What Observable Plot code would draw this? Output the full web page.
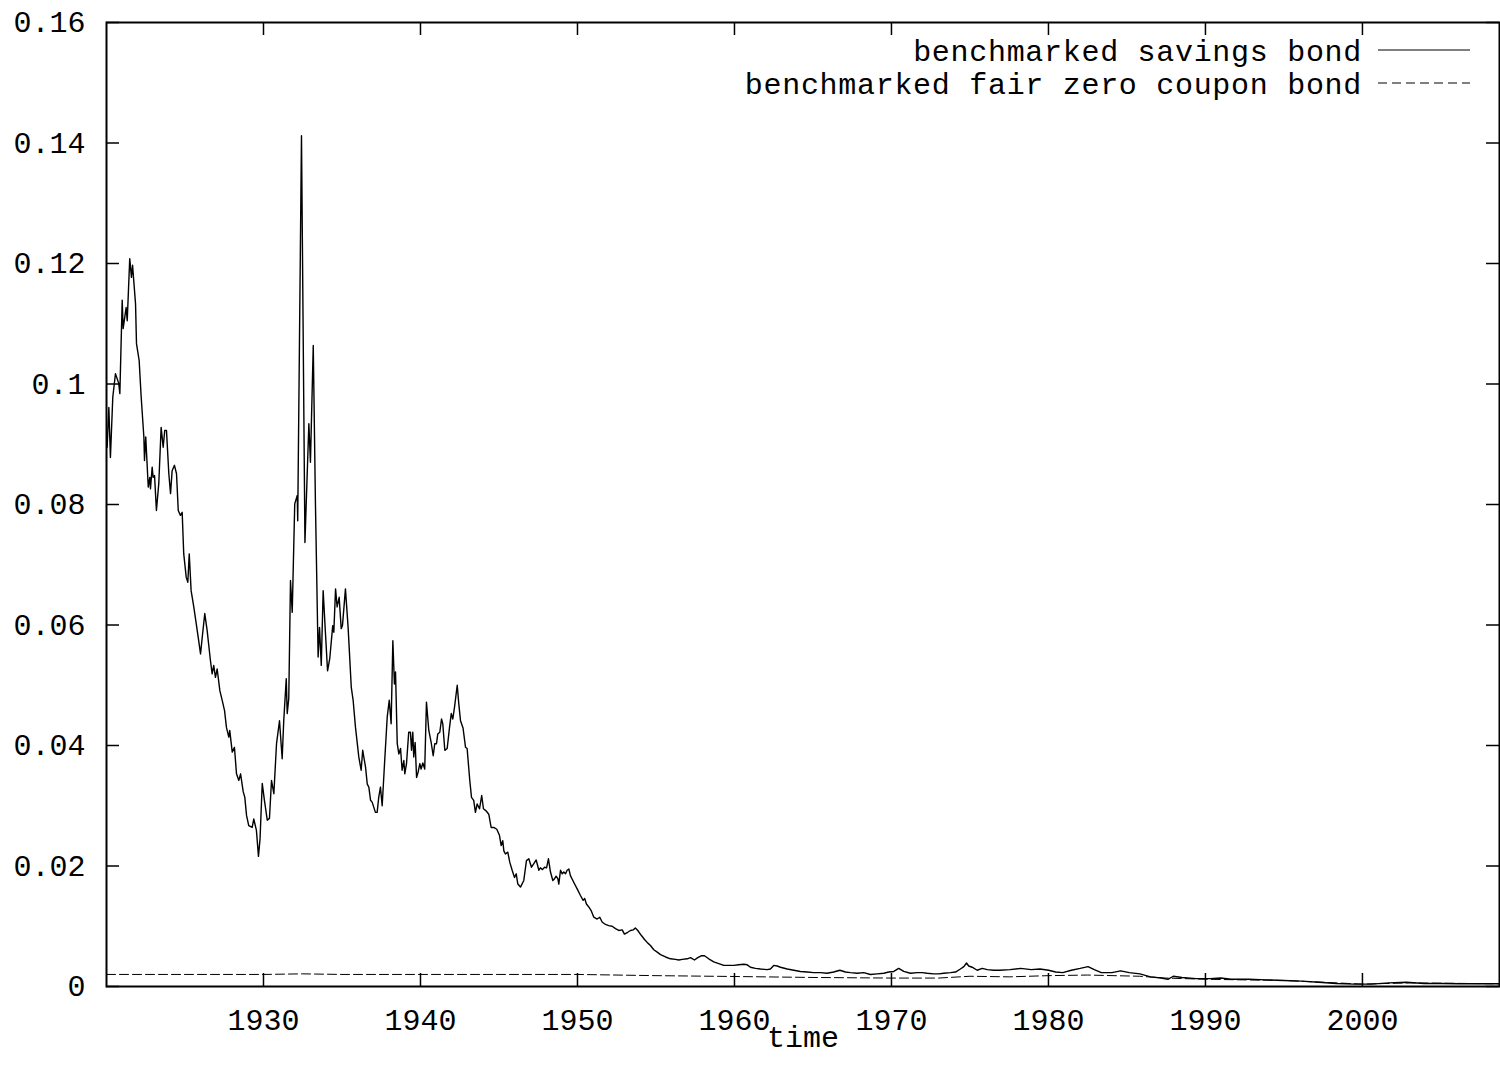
<!DOCTYPE html>
<html>
<head>
<meta charset="utf-8">
<script src="https://cdn.jsdelivr.net/npm/d3@7"></script>
<script src="https://cdn.jsdelivr.net/npm/@observablehq/plot@0.6"></script>
<style>
  body { margin: 0; background: #fff; }
  #chart { width: 1500px; height: 1078px; }
</style>
</head>
<body>
<div id="chart"></div>
<script>
// ---- data ----
const seriesNames = ["benchmarked savings bond", "benchmarked fair zero coupon bond"];
const xTicks = [1930, 1940, 1950, 1960, 1970, 1980, 1990, 2000];
const yTicks = [0, 0.02, 0.04, 0.06, 0.08, 0.1, 0.12, 0.14, 0.16];
const xLabel = "time";

const savingsYear = [
1920.04,1920.15,1920.25,1920.40,1920.57,1920.78,1920.85,1921.00,1921.06,1921.25,1921.32,1921.48,1921.59,1921.66,1921.85,1921.91,
1922.08,1922.21,1922.38,1922.42,1922.50,1922.66,1922.76,1922.80,1922.91,1922.97,1923.06,1923.18,1923.33,1923.48,1923.61,1923.71,
1923.82,1923.97,1924.08,1924.18,1924.33,1924.46,1924.57,1924.71,1924.82,1924.92,1925.08,1925.18,1925.27,1925.39,1925.56,1925.69,
1925.84,1925.99,1926.10,1926.26,1926.41,1926.62,1926.73,1926.83,1926.94,1927.05,1927.22,1927.37,1927.52,1927.64,1927.79,1927.85,
1928.01,1928.15,1928.28,1928.43,1928.54,1928.71,1928.81,1928.92,1929.06,1929.28,1929.38,1929.55,1929.68,1929.78,1929.92,1930.06,
1930.24,1930.38,1930.51,1930.66,1930.83,1931.02,1931.19,1931.29,1931.45,1931.51,1931.61,1931.72,1931.83,1931.99,1932.15,1932.18,
1932.42,1932.64,1932.89,1932.99,1933.17,1933.31,1933.48,1933.57,1933.68,1933.80,1933.95,1934.08,1934.22,1934.41,1934.48,1934.59,
1934.69,1934.82,1934.95,1935.03,1935.22,1935.39,1935.59,1935.71,1935.86,1936.07,1936.22,1936.32,1936.50,1936.61,1936.71,1936.82,
1936.92,1937.13,1937.24,1937.34,1937.45,1937.56,1937.71,1937.88,1938.01,1938.13,1938.24,1938.34,1938.41,1938.52,1938.62,1938.73,
1938.83,1938.94,1939.00,1939.11,1939.25,1939.36,1939.43,1939.51,1939.57,1939.66,1939.75,1939.85,1939.96,1940.04,1940.15,1940.27,
1940.38,1940.53,1940.68,1940.81,1940.91,1941.02,1941.10,1941.23,1941.34,1941.42,1941.55,1941.70,1941.85,1941.96,1942.06,1942.17,
1942.34,1942.44,1942.55,1942.71,1942.87,1942.97,1943.14,1943.25,1943.39,1943.50,1943.61,1943.76,1943.90,1944.01,1944.16,1944.35,
1944.50,1944.67,1944.86,1945.03,1945.14,1945.24,1945.31,1945.41,1945.56,1945.69,1945.84,1945.99,1946.10,1946.20,1946.37,1946.58,
1946.75,1946.90,1947.07,1947.22,1947.37,1947.54,1947.64,1947.77,1947.90,1948.03,1948.15,1948.28,1948.43,1948.54,1948.64,1948.75,
1948.81,1948.92,1949.03,1949.13,1949.24,1949.34,1949.45,1949.55,1949.76,1949.98,1950.19,1950.36,1950.46,1950.57,1950.72,1950.87,
1951.04,1951.25,1951.42,1951.57,1951.78,1951.99,1952.21,1952.42,1952.63,1952.85,1952.99,1953.20,1953.38,1953.55,1953.69,1953.84,
1954.06,1954.27,1954.48,1954.65,1954.86,1955.08,1955.29,1955.61,1955.92,1956.24,1956.45,1956.67,1956.99,1957.20,1957.45,1957.66,
1957.88,1958.09,1958.36,1958.68,1959.00,1959.32,1959.64,1959.96,1960.27,1960.59,1960.81,1961.02,1961.34,1961.66,1962.08,1962.29,
1962.50,1962.72,1962.93,1963.36,1963.78,1964.20,1964.63,1965.05,1965.48,1965.90,1966.32,1966.71,1967.07,1967.39,1967.82,1968.24,
1968.66,1969.09,1969.51,1969.83,1970.15,1970.46,1970.78,1971.21,1971.64,1971.96,1972.27,1972.69,1973.01,1973.33,1973.76,1974.08,
1974.39,1974.61,1974.78,1974.92,1975.14,1975.46,1975.78,1976.10,1976.52,1976.88,1977.55,1978.23,1978.90,1979.46,1980.01,1980.46,
1980.91,1981.46,1982.02,1982.52,1982.92,1983.37,1984.04,1984.60,1985.15,1985.83,1986.50,1987.17,1987.61,1987.95,1988.51,1989.40,
1990.29,1990.97,1991.64,1992.75,1993.87,1994.99,1996.11,1997.22,1998.34,1999.46,2000.57,2001.69,2002.80,2003.93,2005.03,2006.15,
2007.27,2008.73
];
const savingsValue = [
0.0895,0.0961,0.0878,0.0978,0.1017,0.1001,0.0984,0.1139,0.1092,0.1127,0.1105,0.1208,0.1177,0.1197,0.1133,0.1067,
0.1039,0.0978,0.0912,0.0873,0.0912,0.0829,0.0845,0.0826,0.0862,0.0845,0.0848,0.0790,0.0835,0.0928,0.0895,0.0923,
0.0923,0.0851,0.0818,0.0856,0.0865,0.0851,0.0790,0.0782,0.0787,0.0718,0.0679,0.0671,0.0718,0.0657,0.0630,0.0607,
0.0580,0.0552,0.0580,0.0619,0.0591,0.0541,0.0519,0.0533,0.0513,0.0527,0.0491,0.0475,0.0458,0.0430,0.0414,0.0425,
0.0389,0.0397,0.0353,0.0342,0.0353,0.0323,0.0314,0.0284,0.0267,0.0264,0.0278,0.0259,0.0216,0.0245,0.0337,0.0309,
0.0276,0.0279,0.0342,0.0320,0.0403,0.0441,0.0378,0.0441,0.0511,0.0453,0.0478,0.0674,0.0621,0.0801,0.0815,0.0773,
0.1412,0.0737,0.0934,0.0870,0.1064,0.0800,0.0547,0.0596,0.0533,0.0657,0.0585,0.0524,0.0544,0.0599,0.0588,0.0660,
0.0630,0.0646,0.0594,0.0599,0.0660,0.0596,0.0497,0.0475,0.0430,0.0381,0.0359,0.0392,0.0364,0.0336,0.0331,0.0309,
0.0306,0.0289,0.0289,0.0314,0.0331,0.0300,0.0370,0.0447,0.0475,0.0436,0.0574,0.0502,0.0522,0.0403,0.0386,0.0395,
0.0359,0.0375,0.0353,0.0370,0.0422,0.0422,0.0392,0.0422,0.0381,0.0405,0.0347,0.0356,0.0370,0.0361,0.0371,0.0361,
0.0472,0.0425,0.0405,0.0383,0.0403,0.0403,0.0419,0.0422,0.0444,0.0436,0.0392,0.0395,0.0430,0.0453,0.0444,0.0464,
0.0500,0.0469,0.0441,0.0429,0.0397,0.0395,0.0342,0.0314,0.0309,0.0289,0.0303,0.0295,0.0317,0.0295,0.0292,0.0286,
0.0264,0.0264,0.0261,0.0251,0.0234,0.0242,0.0225,0.0220,0.0223,0.0206,0.0193,0.0181,0.0187,0.0170,0.0165,0.0176,
0.0209,0.0212,0.0198,0.0204,0.0210,0.0193,0.0197,0.0194,0.0198,0.0197,0.0212,0.0190,0.0176,0.0179,0.0183,0.0179,
0.0170,0.0193,0.0187,0.0190,0.0187,0.0193,0.0195,0.0184,0.0173,0.0162,0.0151,0.0143,0.0146,0.0137,0.0132,0.0126,
0.0115,0.0112,0.0115,0.0107,0.0103,0.0101,0.0100,0.0096,0.0093,0.0094,0.0087,0.0090,0.0093,0.0094,0.0097,0.0093,
0.0085,0.0078,0.0072,0.0068,0.0061,0.0057,0.0053,0.0049,0.0046,0.0045,0.0044,0.0045,0.0046,0.0048,0.0044,0.0048,
0.0051,0.0051,0.0046,0.0041,0.0038,0.0035,0.0035,0.0035,0.0036,0.0037,0.0036,0.0032,0.0030,0.0029,0.0028,0.0029,
0.0035,0.0034,0.0032,0.0029,0.0027,0.0025,0.0024,0.0023,0.0023,0.0022,0.0024,0.0027,0.0024,0.0023,0.0022,0.0023,
0.0020,0.0021,0.0022,0.0024,0.0025,0.0030,0.0025,0.0022,0.0023,0.0023,0.0022,0.0021,0.0021,0.0022,0.0023,0.0024,
0.0029,0.0033,0.0039,0.0034,0.0032,0.0027,0.0030,0.0028,0.0027,0.0027,0.0028,0.0030,0.0028,0.0029,0.0027,0.0024,
0.0023,0.0027,0.0030,0.0033,0.0028,0.0023,0.0023,0.0026,0.0023,0.0021,0.0016,0.0014,0.0012,0.0017,0.0015,0.0013,
0.0013,0.0014,0.0012,0.0012,0.0011,0.0010,0.0009,0.0007,0.0005,0.0004,0.0004,0.0006,0.0007,0.0005,0.0005,0.00045,
0.00045,0.00045
];

const zeroYear = [1920, 1925, 1930, 1932.5, 1935, 1940, 1945, 1950, 1955, 1960, 1965, 1970, 1973, 1975, 1977.5, 1980, 1982.5, 1985.8, 1987.5, 1990, 1995, 2000, 2003, 2008.73];
const zeroValue = [0.0020, 0.0020, 0.0020, 0.0021, 0.0020, 0.0020, 0.0020, 0.0020, 0.0018, 0.00166, 0.0015, 0.0014, 0.0014, 0.0017, 0.0016, 0.0018, 0.0019, 0.0017, 0.0014, 0.0012, 0.0010, 0.0004, 0.0006, 0.00045];

// ---- build tables ----
const savings = savingsYear.map((t, i) => ({t, v: savingsValue[i]}));
const zero = zeroYear.map((t, i) => ({t, v: zeroValue[i]}));

const W = 1500, H = 1078;
const mL = 106, mR = 1, mT = 22, mB = 92;
const plotW = W - mL - mR, plotH = H - mT - mB;
const tick = 13;
const FONT = "'Liberation Mono', 'DejaVu Sans Mono', monospace";
const FS = 30;

const chart = Plot.plot({
  width: W,
  height: H,
  marginLeft: mL,
  marginRight: mR,
  marginTop: mT,
  marginBottom: mB,
  style: {fontFamily: FONT, fontSize: FS + "px", color: "#000", background: "#fff"},
  x: {domain: [1920, 2008.73], axis: null},
  y: {domain: [0, 0.16], axis: null},
  marks: [
    Plot.line(zero, {x: "t", y: "v", stroke: "#000", strokeWidth: 1, strokeDasharray: "9,4"}),
    Plot.line(savings, {x: "t", y: "v", stroke: "#000", strokeWidth: 1.4}),
    // inward ticks, mirrored on all four sides
    Plot.tickY(yTicks, {y: d => d, insetRight: plotW - tick, stroke: "#000", strokeWidth: 1.5}),
    Plot.tickY(yTicks, {y: d => d, insetLeft: plotW - tick, stroke: "#000", strokeWidth: 1.5}),
    Plot.tickX(xTicks, {x: d => d, insetTop: plotH - tick, stroke: "#000", strokeWidth: 1.5}),
    Plot.tickX(xTicks, {x: d => d, insetBottom: plotH - tick, stroke: "#000", strokeWidth: 1.5}),
    Plot.axisY(yTicks, {tickSize: 0, tickPadding: 21, tickFormat: d => String(d), fontSize: FS, fill: "#000", label: null}),
    Plot.axisX(xTicks, {tickSize: 0, tickPadding: 22, tickFormat: d => String(d), fontSize: FS, fill: "#000", label: null}),
    Plot.text([xLabel], {frameAnchor: "bottom", dy: 60, fontSize: FS, fill: "#000"}),
    Plot.frame({stroke: "#000", strokeWidth: 2})
  ]
});

document.getElementById("chart").appendChild(chart);

// ---- legend (top right, inside the frame) ----
const svg = d3.select(chart);
const leg = svg.append("g").attr("font-family", FONT).attr("font-size", FS).attr("letter-spacing", "0.7px");
const rows = [
  {name: seriesNames[0], y: 50, dash: null},
  {name: seriesNames[1], y: 83, dash: "9,5"}
];
rows.forEach(r => {
  leg.append("text").attr("x", 1362).attr("y", r.y).attr("dy", "0.35em")
     .attr("text-anchor", "end").attr("fill", "#000").text(r.name);
  const ln = leg.append("line").attr("x1", 1378).attr("x2", 1470).attr("y1", r.y).attr("y2", r.y)
     .attr("stroke", "#000").attr("stroke-width", 1);
  if (r.dash) ln.attr("stroke-dasharray", r.dash);
});
</script>
</body>
</html>
